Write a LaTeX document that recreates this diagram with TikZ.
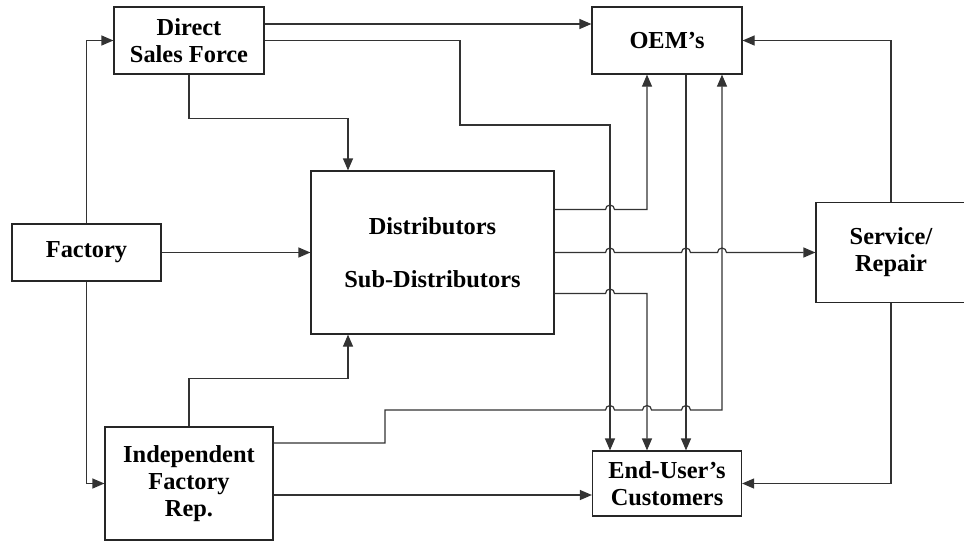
\documentclass[tikz,border=0pt]{standalone}
\usepackage{fontspec}
\setmainfont{Liberation Serif}
\usetikzlibrary{arrows.meta,positioning,calc}

\newcommand{\hop}[2]{-- ($(#1 |- #2)+(-2.25pt,0)$) arc[start angle=180,end angle=0,radius=2.25pt]}

\begin{document}
\begin{tikzpicture}[on grid,
		box/.style={draw=black!85,line width=0.6pt,fill=white,align=center,inner sep=0pt,
			font=\fontsize{12.2}{13.5}\selectfont\bfseries},
		conn/.style={draw=black!80,line width=0.6pt,-{Triangle[length=6pt,width=5pt]}}]

	\useasboundingbox (0,0) rectangle (482pt,-271pt);

	\node[box,minimum width=74.5pt,minimum height=28.5pt] (factory) at (43.25pt,-126.25pt) {Factory};
	\node[box,minimum width=75pt,minimum height=33.5pt] (dsf) [above right=106pt and 51.25pt of factory] {Direct\\Sales Force};
	\node[box,minimum width=84pt,minimum height=56.5pt] (ifr) [below right=115.5pt and 51.25pt of factory] {Independent\\Factory\\Rep.};
	\node[box,minimum width=121.5pt,minimum height=81.5pt] (dist) [right=173pt of factory] {Distributors\\[13pt]Sub-Distributors};
	\node[box,minimum width=75pt,minimum height=33.5pt] (oem) [right=239pt of dsf] {OEM’s};
	\node[box,minimum width=74.5pt,minimum height=32.5pt] (enduser) [right=239pt of ifr] {End-User’s\\Customers};
	\node[box,minimum width=75pt,minimum height=50pt] (service) [right=229.25pt of dist] {Service/\\Repair};

	% vertical lanes between OEM's and End-User's Customers
	\coordinate (lnA) at ([xshift=-28.5pt]enduser.north);
	\coordinate (lnB) at ([xshift=-10pt]enduser.north);
	\coordinate (lnC) at ([xshift=9.5pt]enduser.north);
	\coordinate (lnD) at ([xshift=27.5pt]enduser.north);

	\coordinate (dOut1) at ([yshift=21.5pt]dist.east);
	\coordinate (dOut3) at ([yshift=-20.5pt]dist.east);
	\coordinate (dsfOut) at ([yshift=8.25pt]dsf.east);
	\coordinate (ifrOut1) at ([yshift=20.25pt]ifr.east);
	\coordinate (ifrOut2) at ([yshift=-5.75pt]ifr.east);
	\coordinate (dsfBend) at (230pt,-62.5pt);
	\coordinate (ifrBend) at (192.5pt,-205pt);

	% factory outlets
	\draw[conn] (factory.north) |- (dsf.west);
	\draw[conn] (factory.south) |- (ifr.west);
	\draw[conn] (factory) -- (dist);

	% direct sales force
	\draw[conn] (dsfOut) -- (dsfOut -| oem.west);
	\draw[conn] (dsf.east) -| (dsfBend) -| (lnA);
	\draw[conn] (dsf.south) -- ++(0,-22pt) -| ([xshift=-42.25pt]dist.north);

	% independent rep
	\draw[conn] (ifr.north) -- ++(0,24pt) -| ([xshift=-42.25pt]dist.south);
	\draw[conn] (ifrOut1) -| (ifrBend) \hop{lnA}{ifrBend} \hop{lnB}{ifrBend} \hop{lnC}{ifrBend}
		-| (lnD |- oem.south);
	\draw[conn] (ifrOut2) -- (ifrOut2 -| enduser.west);

	% distributors
	\draw[conn] (dOut1) \hop{lnA}{dOut1} -| (lnB |- oem.south);
	\draw[conn] (dist.east) \hop{lnA}{dist.east} \hop{lnC}{dist.east} \hop{lnD}{dist.east}
		-- (dist.east -| service.west);
	\draw[conn] (dOut3) \hop{lnA}{dOut3} -| (lnB);

	% OEM's and service
	\draw[conn] (lnC |- oem.south) -- (lnC);
	\draw[conn] (service.north) |- (oem.east);
	\draw[conn] (service.south) |- (enduser.east);

\end{tikzpicture}
\end{document}
